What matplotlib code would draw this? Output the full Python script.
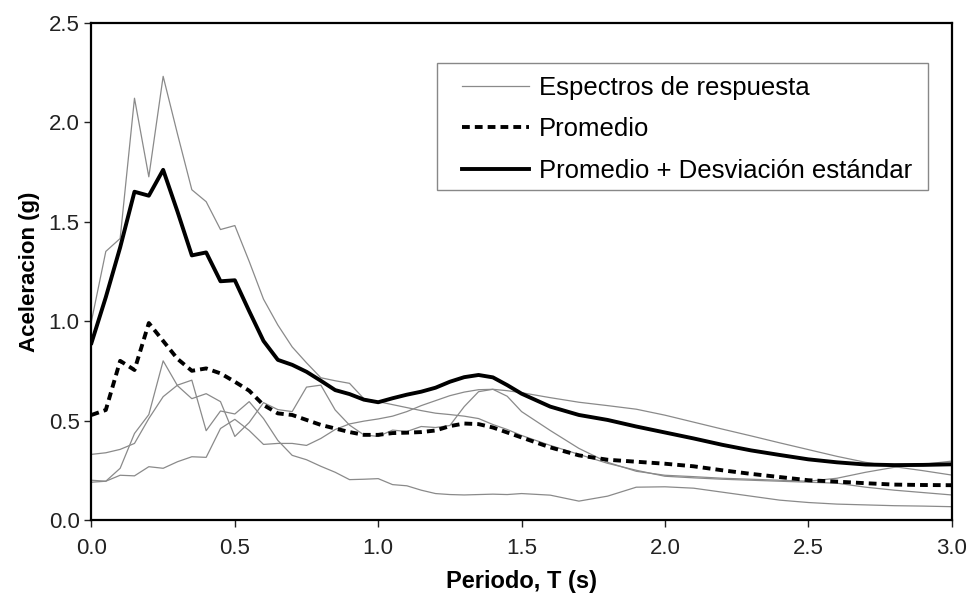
import matplotlib
matplotlib.use("Agg")
import matplotlib.pyplot as plt
from matplotlib.patches import Rectangle

plt.rcParams['font.family'] = ['Liberation Sans', 'DejaVu Sans']

# periodos (s)
periodo = [0.00, 0.05, 0.10, 0.15, 0.20, 0.25, 0.30, 0.35, 0.40, 0.45,
           0.50, 0.55, 0.60, 0.65, 0.70, 0.75, 0.80, 0.85, 0.90, 0.95,
           1.00, 1.05, 1.10, 1.15, 1.20, 1.25, 1.30, 1.35, 1.40, 1.45,
           1.50, 1.60, 1.70, 1.80, 1.90, 2.00, 2.10, 2.20, 2.30, 2.40,
           2.50, 2.60, 2.70, 2.80, 2.90, 3.00]

# espectros de respuesta individuales (g)
espectro_1 = [1.00, 1.35, 1.415, 2.12, 1.725, 2.23, 1.94, 1.66, 1.60, 1.46,
              1.48, 1.30, 1.11, 0.98, 0.87, 0.79, 0.715, 0.70, 0.687, 0.61,
              0.595, 0.58, 0.565, 0.55, 0.537, 0.53, 0.522, 0.51, 0.48, 0.455,
              0.425, 0.375, 0.33, 0.285, 0.25, 0.22, 0.212, 0.205, 0.20, 0.195,
              0.19, 0.185, 0.165, 0.15, 0.138, 0.126]
espectro_2 = [0.20, 0.195, 0.26, 0.435, 0.53, 0.80, 0.675, 0.61, 0.635, 0.595,
              0.42, 0.49, 0.59, 0.555, 0.545, 0.668, 0.678, 0.553, 0.477, 0.428,
              0.42, 0.452, 0.445, 0.47, 0.465, 0.475, 0.57, 0.645, 0.657, 0.622,
              0.545, 0.45, 0.36, 0.29, 0.245, 0.225, 0.218, 0.21, 0.205, 0.20,
              0.195, 0.21, 0.24, 0.265, 0.28, 0.296]
espectro_3 = [0.33, 0.338, 0.355, 0.385, 0.51, 0.62, 0.678, 0.703, 0.449, 0.548,
              0.533, 0.595, 0.51, 0.40, 0.325, 0.303, 0.27, 0.24, 0.203, 0.205,
              0.208, 0.178, 0.172, 0.15, 0.133, 0.128, 0.126, 0.128, 0.13, 0.128,
              0.133, 0.125, 0.095, 0.12, 0.165, 0.167, 0.16, 0.14, 0.12, 0.10,
              0.088, 0.08, 0.076, 0.072, 0.07, 0.067]
espectro_4 = [0.19, 0.195, 0.225, 0.222, 0.268, 0.26, 0.293, 0.318, 0.315, 0.46,
              0.506, 0.45, 0.38, 0.385, 0.385, 0.375, 0.41, 0.455, 0.483, 0.497,
              0.508, 0.522, 0.545, 0.575, 0.60, 0.625, 0.643, 0.655, 0.657, 0.65,
              0.64, 0.615, 0.592, 0.575, 0.557, 0.527, 0.492, 0.457, 0.423, 0.388,
              0.354, 0.32, 0.29, 0.268, 0.248, 0.226]

promedio = [0.528, 0.553, 0.80, 0.754, 0.99, 0.90, 0.81, 0.75, 0.762, 0.737,
            0.695, 0.65, 0.578, 0.536, 0.528, 0.503, 0.478, 0.46, 0.442, 0.428,
            0.428, 0.437, 0.439, 0.442, 0.45, 0.472, 0.485, 0.482, 0.465, 0.44,
            0.415, 0.365, 0.325, 0.303, 0.293, 0.283, 0.27, 0.25, 0.232, 0.216,
            0.20, 0.193, 0.185, 0.178, 0.176, 0.175]
promedio_std = [0.89, 1.12, 1.37, 1.65, 1.63, 1.76, 1.55, 1.33, 1.345, 1.20,
                1.205, 1.05, 0.90, 0.805, 0.78, 0.745, 0.70, 0.653, 0.633, 0.605,
                0.592, 0.612, 0.63, 0.645, 0.665, 0.695, 0.718, 0.729, 0.717, 0.678,
                0.635, 0.57, 0.528, 0.503, 0.47, 0.44, 0.41, 0.378, 0.35, 0.327,
                0.305, 0.29, 0.279, 0.276, 0.277, 0.28]

espectros = [espectro_1, espectro_2, espectro_3, espectro_4]

fig = plt.figure(figsize=(9.69, 6.0), dpi=100)
ax = fig.add_axes([0.0944, 0.1333, 0.8877, 0.829])

for i, esp in enumerate(espectros):
    ax.plot(periodo, esp, color='#8a8a8a', lw=0.9,
            label='Espectros de respuesta' if i == 0 else None)
ax.plot(periodo, promedio, color='black', lw=2.8, ls=(0, (2.0, 1.3)),
        label='Promedio')
ax.plot(periodo, promedio_std, color='black', lw=2.8,
        label='Promedio + Desviación estándar')

ax.set_xlim(0, 3.0)
ax.set_ylim(0, 2.5)
ax.set_xticks([0.0, 0.5, 1.0, 1.5, 2.0, 2.5, 3.0])
ax.set_yticks([0.0, 0.5, 1.0, 1.5, 2.0, 2.5])
ax.xaxis.set_major_formatter(matplotlib.ticker.FormatStrFormatter('%.1f'))
ax.yaxis.set_major_formatter(matplotlib.ticker.FormatStrFormatter('%.1f'))
ax.tick_params(labelsize=16, length=5, width=1, colors='#222222')
ax.tick_params(axis='x', pad=8)
for s in ax.spines.values():
    s.set_linewidth(1.6)
    s.set_color('black')

ax.set_xlabel('Periodo, T (s)', fontsize=17, fontweight='bold', labelpad=8)
ax.set_ylabel('Aceleracion (g)', fontsize=16, fontweight='bold', labelpad=6)

# marco de la leyenda dibujado aparte
marco = Rectangle((0.402, 0.663), 0.570, 0.256, transform=ax.transAxes,
                  facecolor='white', edgecolor='#888888', lw=1.0, zorder=4)
ax.add_patch(marco)
leg = ax.legend(loc='upper left', bbox_to_anchor=(0.4307, 0.893),
                fontsize=18.5, frameon=False, handlelength=2.6,
                labelspacing=0.68, borderpad=0, handletextpad=0.4,
                borderaxespad=0)
leg.set_zorder(5)

fig.savefig('out.png', dpi=100)
